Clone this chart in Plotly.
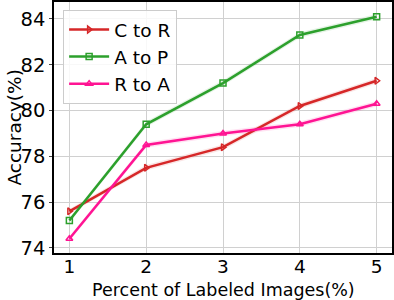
import plotly.graph_objects as go

x_vals = [1, 2, 3, 4, 5]
c_to_r = [75.6, 77.5, 78.4, 80.2, 81.3]
a_to_p = [75.2, 79.4, 81.2, 83.3, 84.1]
r_to_a = [74.4, 78.5, 79.0, 79.4, 80.3]
band = [0.1, 0.12, 0.12, 0.12, 0.12]

series = [
    ("C to R", c_to_r, "#d62728", "triangle-right-open", "rgba(214,39,40,0.12)"),
    ("A to P", a_to_p, "#2ca02c", "square-open", "rgba(44,160,44,0.12)"),
    ("R to A", r_to_a, "#ff1493", "triangle-up-open", "rgba(255,20,147,0.12)"),
]

fig = go.Figure()
for name, ys, col, sym, fillc in series:
    upper = [y + b for y, b in zip(ys, band)]
    lower = [y - b for y, b in zip(ys, band)]
    fig.add_trace(go.Scatter(x=x_vals, y=upper, mode="lines", line=dict(width=0),
                             showlegend=False, hoverinfo="skip"))
    fig.add_trace(go.Scatter(x=x_vals, y=lower, mode="lines", line=dict(width=0),
                             fill="tonexty", fillcolor=fillc, showlegend=False, hoverinfo="skip"))
for name, ys, col, sym, fillc in series:
    fig.add_trace(go.Scatter(x=x_vals, y=ys, mode="lines+markers", name=name,
                             line=dict(color=col, width=2.5),
                             marker=dict(symbol=sym, size=6, color=col, line=dict(width=1.5, color=col))))

font = "DejaVu Sans, sans-serif"
fig.update_layout(
    width=394, height=300,
    margin=dict(l=54, r=2, t=2, b=47, autoexpand=False),
    paper_bgcolor="white", plot_bgcolor="white",
    font=dict(family=font, size=18.5, color="black"),
    legend=dict(x=0.027, y=0.968, xanchor="left", yanchor="top",
                bgcolor="rgba(255,255,255,0.85)", bordercolor="#cccccc", borderwidth=1,
                font=dict(size=18.5), itemwidth=40, tracegroupgap=0, traceorder="normal"),
    showlegend=True,
    annotations=[
        dict(text="Percent of Labeled Images(%)", xref="paper", yref="paper",
             x=0.5, y=-0.147, xanchor="center", yanchor="middle", showarrow=False,
             font=dict(size=17.5)),
        dict(text="Accuracy(%)", xref="paper", yref="paper",
             x=-0.118, y=0.5, xanchor="center", yanchor="middle", showarrow=False,
             textangle=-90, font=dict(size=18.5)),
    ],
)
fig.update_xaxes(range=[0.8, 5.2], tickvals=x_vals, ticktext=["1", "2", "3", "4", "5"],
                 showgrid=True, gridcolor="#d0d0d0", gridwidth=1,
                 showline=True, linecolor="black", linewidth=1.5, mirror=True,
                 ticks="", tickfont=dict(size=18.5), ticklabelstandoff=-4,
                 automargin=False, zeroline=False)
fig.update_yaxes(range=[73.78, 84.74], tickvals=[74, 76, 78, 80, 82, 84],
                 showgrid=True, gridcolor="#d0d0d0", gridwidth=1,
                 showline=True, linecolor="black", linewidth=1.5, mirror=True,
                 ticks="outside", ticklen=3, tickfont=dict(size=19.5),
                 automargin=False, zeroline=False)

fig.write_html("out.html", config={"displayModeBar": False},
               post_script="document.body.style.margin='0';")
